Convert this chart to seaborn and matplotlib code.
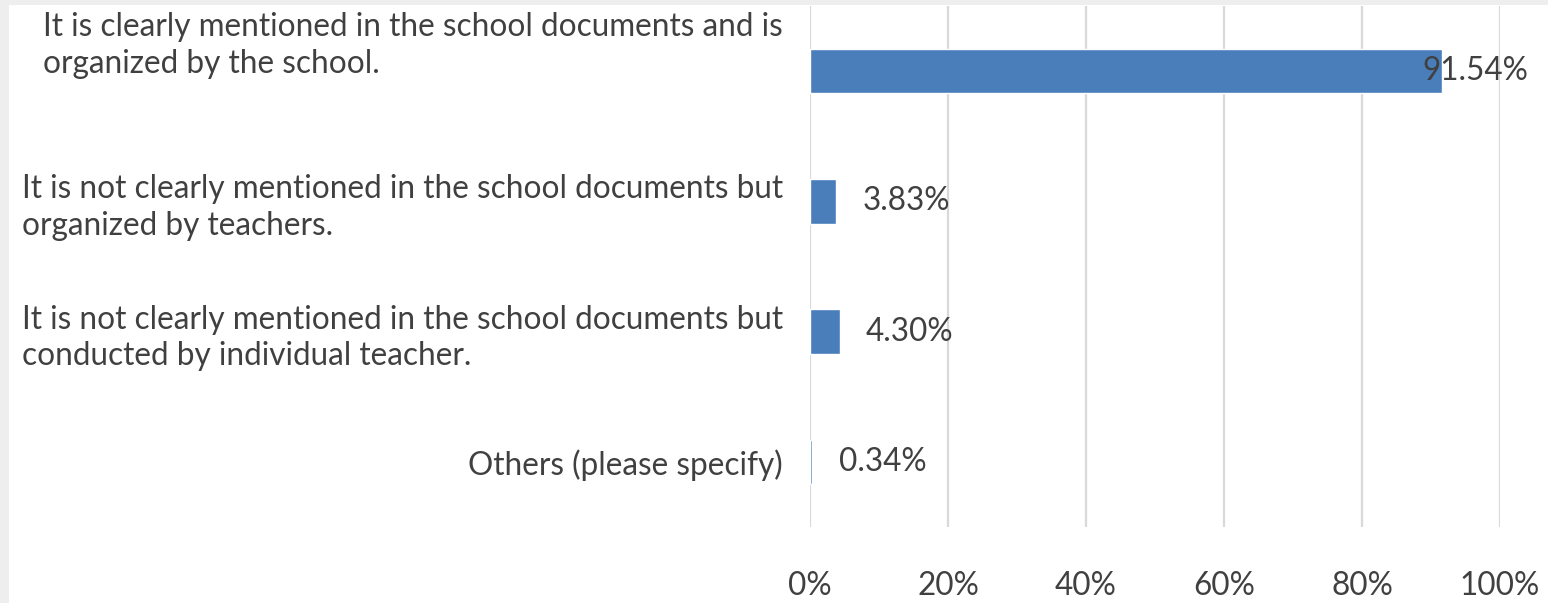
import matplotlib
matplotlib.use("Agg")
import matplotlib.pyplot as plt
import matplotlib.patches as mpatches
import matplotlib.transforms as mtransforms
import seaborn as sns
import pandas as pd

categories = [
    "It is clearly mentioned in the school documents and is\norganized by the school.",
    "It is not clearly mentioned in the school documents but\norganized by teachers.",
    "It is not clearly mentioned in the school documents but\nconducted by individual teacher.",
    "Others (please specify)",
]
values = [91.54, 3.83, 4.30, 0.34]
value_labels = ["91.54%", "3.83%", "4.30%", "0.34%"]
x_ticks = [0, 20, 40, 60, 80, 100]
x_tick_labels = ["0%", "20%", "40%", "60%", "80%", "100%"]

df = pd.DataFrame({"category": categories, "value": values})

sns.set_theme(style="white")
plt.rcParams["font.family"] = ["Lato", "DejaVu Sans"]

TEXT = "#404040"
BAR = "#4a7ebb"
GRID = "#d9d9d9"
FS = 22.7

W, H = 1548, 603
fig = plt.figure(figsize=(W / 100, H / 100), dpi=100, facecolor="#eeeeee")
# white sheet with a thin grey margin on the top and left
sheet = mpatches.Rectangle((9 / W, 0), 1, 1 - 5 / H, transform=fig.transFigure,
                           facecolor="white", edgecolor="none", zorder=-10)
fig.patches.append(sheet)

ax = fig.add_axes([810 / W, 1 - 527 / H, 690 / W, 521 / H])
ax.set_facecolor("none")

sns.barplot(data=df, x="value", y="category", orient="h", color=BAR,
            width=0.34, saturation=1, ax=ax, zorder=3)

ax.set_xlim(0, 100)
ax.set_ylim(3.5, -0.5)
ax.set_xticks(x_ticks)
ax.set_xticklabels(x_tick_labels)
ax.xaxis.grid(True, color=GRID, linewidth=1.6, zorder=0)
ax.yaxis.grid(False)
for s in ax.spines.values():
    s.set_visible(False)

ax.set_xlabel("")
ax.set_ylabel("")
ax.tick_params(axis="x", length=0, pad=32, labelsize=FS, labelcolor=TEXT)
ax.tick_params(axis="y", length=0, pad=19.5, labelsize=FS, labelcolor=TEXT)
for lbl in ax.get_yticklabels():
    lbl.set_multialignment("left")
    lbl.set_linespacing(1.27)

# the top category label sits a little higher than its bar
top_lbl = ax.get_yticklabels()[0]
top_lbl.set_transform(top_lbl.get_transform() +
                      mtransforms.ScaledTranslation(0, 32 / 100, fig.dpi_scale_trans))

# value labels just outside the bar ends; pulled back inside when near the right edge
for i, (v, txt) in enumerate(zip(values, value_labels)):
    dx = 19 if v < 80 else -14
    ax.annotate(txt, xy=(v, i), xytext=(dx, 0), textcoords="offset points",
                ha="left", va="center", fontsize=FS, color=TEXT, zorder=4)

fig.savefig("out.png", dpi=100, facecolor=fig.get_facecolor())
